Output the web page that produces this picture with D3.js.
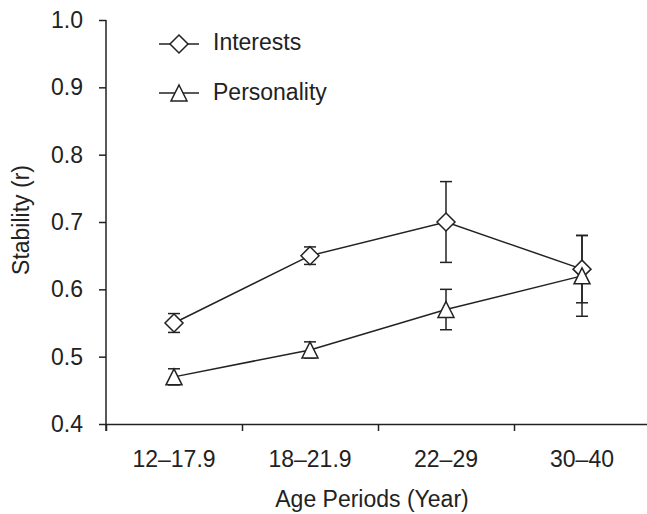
<!DOCTYPE html>
<html>
<head>
<meta charset="utf-8">
<script src="https://cdn.jsdelivr.net/npm/d3@7"></script>
<style>
  body { margin: 0; background: #fff; }
  svg { display: block; }
  text { font-family: "Liberation Sans", Arial, sans-serif; fill: #222; }
</style>
</head>
<body>
<svg width="647" height="514"></svg>
<script>
const ages = ['12–17.9', '18–21.9', '22–29', '30–40'];
const interests = [0.55, 0.65, 0.70, 0.63];
const interestsErr = [0.014, 0.013, 0.06, 0.05];
const personality = [0.47, 0.51, 0.57, 0.62];
const personalityErr = [0.012, 0.012, 0.03, 0.06];
const yTicks = [0.4, 0.5, 0.6, 0.7, 0.8, 0.9, 1.0];

const ink = '#222';
const fontSize = 23;

let svg = d3.select('svg');

let x = d3.scaleBand().domain(ages).range([106, 650]).paddingInner(0).paddingOuter(0);
let xEdge = d3.scaleLinear().domain([0, ages.length]).range([106, 650]);
let y = d3.scaleLinear().domain([0.4, 1.0]).range([424, 20]);

const cx = d => x(d) + x.bandwidth() / 2;

// y axis
let yAxis = svg.append('g')
  .attr('transform', 'translate(106,0)')
  .call(d3.axisLeft(y).tickValues(yTicks).tickFormat(d3.format('.1f'))
    .tickSize(7).tickSizeOuter(0).tickPadding(16));
yAxis.select('.domain').remove();
yAxis.append('line').attr('x1', 0).attr('x2', 0).attr('y1', 20).attr('y2', 431)
  .attr('stroke', ink).attr('stroke-width', 1.5);

// x axis: boundary ticks + centred labels
let xAxis = svg.append('g')
  .attr('transform', 'translate(0,424)')
  .call(d3.axisBottom(xEdge).ticks(ages.length).tickSize(7).tickSizeOuter(0).tickFormat(''));
let xLabels = svg.append('g')
  .attr('transform', 'translate(0,424)')
  .call(d3.axisBottom(x).tickSize(0).tickPadding(27));
xLabels.select('.domain').remove();

svg.selectAll('.tick line, .domain').attr('stroke', ink).attr('stroke-width', 1.5);
svg.selectAll('.tick text')
  .attr('font-size', fontSize)
  .attr('font-family', '"Liberation Sans", Arial, sans-serif')
  .attr('fill', ink);

// axis titles
svg.append('text')
  .attr('x', 372).attr('y', 507)
  .attr('text-anchor', 'middle')
  .attr('font-size', fontSize)
  .text('Age Periods (Year)');
svg.append('text')
  .attr('transform', 'translate(29,220) rotate(-90)')
  .attr('text-anchor', 'middle')
  .attr('font-size', fontSize)
  .text('Stability (r)');

const diamond = 'M0,-9L9,0L0,9L-9,0Z';
const triangle = 'M0,-8L8,8L-8,8Z';

const series = [
  { name: 'Interests', vals: interests, err: interestsErr, shape: diamond },
  { name: 'Personality', vals: personality, err: personalityErr, shape: triangle }
];

const line = d3.line().x(d => cx(d.age)).y(d => y(d.v));

let plot = svg.append('g');
series.forEach(s => {
  let pts = ages.map((a, i) => ({ age: a, v: s.vals[i], e: s.err[i] }));
  s.pts = pts;
  plot.append('path')
    .attr('d', line(pts))
    .attr('fill', 'none')
    .attr('stroke', ink)
    .attr('stroke-width', 1.5);
});

series.forEach(s => {
  let eb = plot.append('g').selectAll('g').data(s.pts).enter().append('g')
    .attr('stroke', ink).attr('stroke-width', 1.5);
  eb.append('line')
    .attr('x1', d => cx(d.age)).attr('x2', d => cx(d.age))
    .attr('y1', d => y(d.v - d.e)).attr('y2', d => y(d.v + d.e));
  eb.append('line')
    .attr('x1', d => cx(d.age) - 6).attr('x2', d => cx(d.age) + 6)
    .attr('y1', d => y(d.v + d.e)).attr('y2', d => y(d.v + d.e));
  eb.append('line')
    .attr('x1', d => cx(d.age) - 6).attr('x2', d => cx(d.age) + 6)
    .attr('y1', d => y(d.v - d.e)).attr('y2', d => y(d.v - d.e));
});

series.forEach(s => {
  plot.append('g').selectAll('path').data(s.pts).enter().append('path')
    .attr('d', s.shape)
    .attr('transform', d => `translate(${cx(d.age)},${y(d.v)})`)
    .attr('fill', '#fff')
    .attr('stroke', ink)
    .attr('stroke-width', 1.5);
});

// legend
let legend = svg.append('g');
series.forEach((s, i) => {
  let ly = 44 + i * 49;
  let g = legend.append('g').attr('transform', `translate(0,${ly})`);
  g.append('line').attr('x1', 159).attr('x2', 199).attr('y1', 0).attr('y2', 0)
    .attr('stroke', ink).attr('stroke-width', 1.5);
  g.append('path').attr('d', s.shape).attr('transform', 'translate(179,0)')
    .attr('fill', '#fff').attr('stroke', ink).attr('stroke-width', 1.5);
  g.append('text').attr('x', 213).attr('y', 6 + i * 1)
    .attr('font-size', fontSize)
    .text(s.name);
});
</script>
</body>
</html>
